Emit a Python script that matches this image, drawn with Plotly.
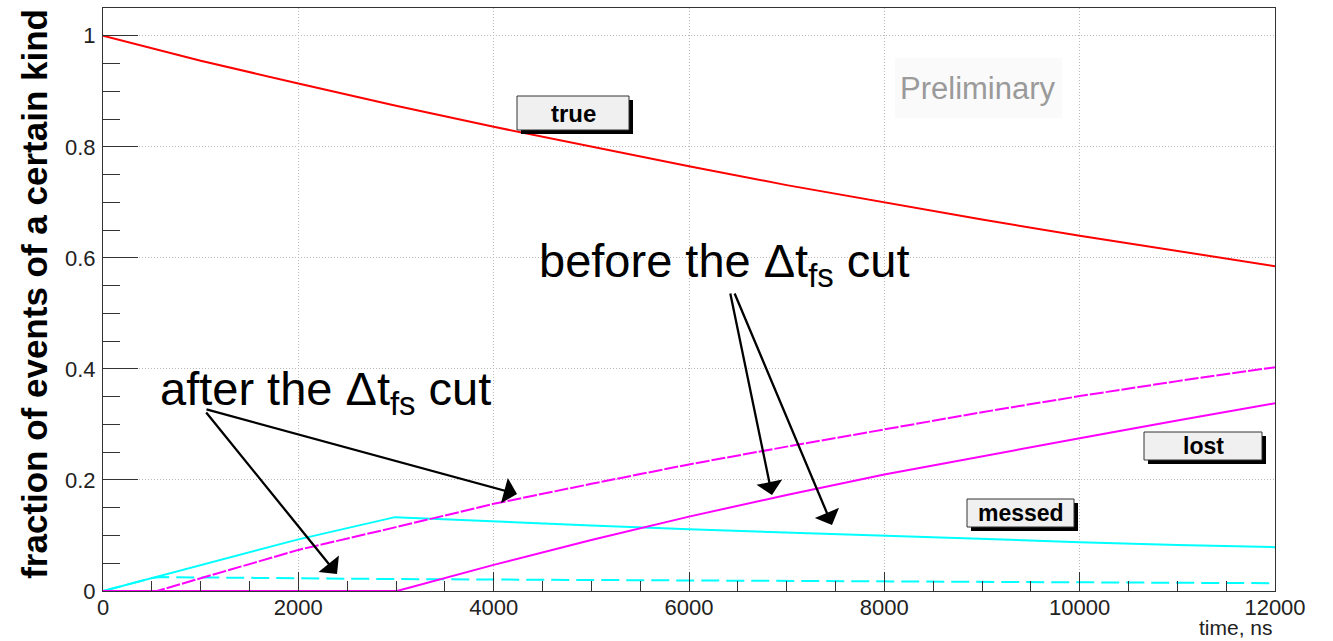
import plotly.graph_objects as go

# ---- data: fraction of events of each kind vs time (ns) ----
time_true = [0, 1000, 2000, 3000, 4000, 5000, 6000, 7000, 8000, 9000, 10000, 11000, 12000]
frac_true = [1.0, 0.955, 0.914, 0.874, 0.836, 0.800, 0.765, 0.731, 0.700, 0.669, 0.640, 0.612, 0.585]

time_lost_before = [0, 3010, 4000, 5000, 6000, 7000, 8000, 9000, 10000, 11000, 12000]
frac_lost_before = [0.0, 0.0, 0.047, 0.092, 0.134, 0.173, 0.210, 0.243, 0.275, 0.307, 0.338]

time_lost_after = [0, 553, 1000, 2000, 3000, 4000, 5000, 6000, 7000, 8000, 9000, 10000, 11000, 12000]
frac_lost_after = [0.0, 0.0, 0.023, 0.074, 0.115, 0.157, 0.193, 0.228, 0.260, 0.291, 0.322, 0.351, 0.378, 0.403]

time_messed_before = [0, 1000, 2000, 2990, 4000, 5000, 6000, 7000, 8000, 9000, 10000, 11000, 12000]
frac_messed_before = [0.0, 0.047, 0.093, 0.133, 0.125, 0.118, 0.111, 0.105, 0.099, 0.093, 0.088, 0.083, 0.079]

time_messed_after = [0, 520, 600, 2000, 3000, 6000, 9000, 12000]
frac_messed_after = [0.0, 0.024, 0.025, 0.023, 0.0215, 0.019, 0.0165, 0.014]

x_tick_vals = [0, 2000, 4000, 6000, 8000, 10000, 12000]
x_tick_text = ["0", "2000", "4000", "6000", "8000", "10000", "12000"]
y_tick_vals = [0, 0.2, 0.4, 0.6, 0.8, 1.0]
y_tick_text = ["0", "0.2", "0.4", "0.6", "0.8", "1"]

X_MAX = 12000
Y_MAX = 1.05

# ---- page geometry ----
W, H = 1333, 641
ML, MR, MT, MB = 103, 58, 8, 50
PW, PH = W - ML - MR, H - MT - MB


def tx(px):
    """pixel column -> time value"""
    return (px - ML) / PW * X_MAX


def ty(py):
    """pixel row -> fraction value"""
    return (H - MB - py) / PH * Y_MAX


FONT = "Liberation Sans, Arial, Helvetica, sans-serif"

fig = go.Figure()

line_w = 2
fig.add_trace(go.Scatter(x=time_messed_after, y=frac_messed_after, mode="lines",
                         line=dict(color="#00ffff", width=line_w, dash="18px,7px")))
fig.add_trace(go.Scatter(x=time_messed_before, y=frac_messed_before, mode="lines",
                         line=dict(color="#00ffff", width=line_w)))
fig.add_trace(go.Scatter(x=time_lost_before, y=frac_lost_before, mode="lines",
                         line=dict(color="#ff00ff", width=line_w)))
fig.add_trace(go.Scatter(x=time_lost_after, y=frac_lost_after, mode="lines",
                         line=dict(color="#ff00ff", width=line_w, dash="14px,2px")))
fig.add_trace(go.Scatter(x=time_true, y=frac_true, mode="lines",
                         line=dict(color="#ff0000", width=line_w)))

shapes = []
annotations = []

# labelled boxes with a drop shadow
boxes = [
    ("true", 517, 96, 629, 130, 24),
    ("lost", 1144, 432, 1262, 460, 23),
    ("messed", 967, 499, 1074, 527, 23),
]
for label, x0, y0, x1, y1, fs in boxes:
    shapes.append(dict(type="rect", xref="x", yref="y", layer="above",
                       x0=tx(x0 + 4), x1=tx(x1 + 4), y0=ty(y0 + 4), y1=ty(y1 + 4),
                       fillcolor="black", line=dict(width=0)))
    shapes.append(dict(type="rect", xref="x", yref="y", layer="above",
                       x0=tx(x0), x1=tx(x1), y0=ty(y0), y1=ty(y1),
                       fillcolor="#f0f0f0", line=dict(color="#333", width=1)))
    annotations.append(dict(x=tx((x0 + x1) / 2), y=ty((y0 + y1) / 2), xref="x", yref="y",
                            text=f"<b>{label}</b>", showarrow=False,
                            font=dict(family=FONT, size=fs, color="black"),
                            xanchor="center", yanchor="middle"))

# "Preliminary" stamp
shapes.append(dict(type="rect", xref="x", yref="y", layer="below",
                   x0=tx(895), x1=tx(1062), y0=ty(58), y1=ty(118),
                   fillcolor="#fafafa", line=dict(width=0)))
annotations.append(dict(x=tx(978), y=ty(88), xref="x", yref="y", text="Preliminary",
                        showarrow=False, font=dict(family=FONT, size=31, color="#9a9a9a"),
                        xanchor="center", yanchor="middle"))

# big captions
annotations.append(dict(x=tx(158), y=ty(392), xref="x", yref="y",
                        text="after the Δt<sub>fs</sub> cut", showarrow=False,
                        font=dict(family=FONT, size=47, color="black"),
                        xanchor="left", yanchor="middle"))
annotations.append(dict(x=tx(537), y=ty(264), xref="x", yref="y",
                        text="before the Δt<sub>fs</sub> cut", showarrow=False,
                        font=dict(family=FONT, size=47, color="black"),
                        xanchor="left", yanchor="middle"))

# arrows from captions to curves: (tail px, tip px)
arrows = [
    ((205, 409), (517, 494)),
    ((205, 411), (337, 574)),
    ((730, 292), (772, 495)),
    ((734, 292), (832, 525)),
]
for (ax_px, ay_px), (x_px, y_px) in arrows:
    annotations.append(dict(x=tx(x_px), y=ty(y_px), ax=tx(ax_px), ay=ty(ay_px),
                            xref="x", yref="y", axref="x", ayref="y", text="",
                            showarrow=True, arrowhead=1, arrowsize=1.9, arrowwidth=2.3,
                            arrowcolor="black"))

# axis titles
annotations.append(dict(x=-0.059, y=ty(294) / Y_MAX, xref="paper", yref="paper",
                        text="<b>fraction of events of a certain kind</b>", textangle=-90,
                        showarrow=False, font=dict(family=FONT, size=35, color="black"),
                        xanchor="center", yanchor="middle"))
annotations.append(dict(x=1.0, y=-(H - (H - MB)) / PH, xref="paper", yref="paper",
                        text="time, ns", showarrow=False,
                        font=dict(family=FONT, size=21, color="#222"),
                        xanchor="right", yanchor="bottom"))

grid_color = "#b8b8b8"
axis_color = "#333"

fig.update_layout(
    width=W, height=H,
    margin=dict(l=ML, r=MR, t=MT, b=MB, pad=0),
    paper_bgcolor="white", plot_bgcolor="white",
    showlegend=False,
    shapes=shapes, annotations=annotations,
    xaxis=dict(range=[0, X_MAX], tickmode="array", tickvals=x_tick_vals, ticktext=x_tick_text,
               ticks="inside", ticklen=19, tickwidth=1, tickcolor=axis_color,
               minor=dict(tickmode="linear", tick0=0, dtick=500, ticks="inside", ticklen=10,
                          tickcolor=axis_color, showgrid=False),
               showgrid=True, gridcolor=grid_color, griddash="1px,2px", gridwidth=1,
               showline=True, linecolor=axis_color, linewidth=1, mirror=True,
               zeroline=False, tickfont=dict(family=FONT, size=22, color="#222"),
               ticklabelstandoff=-3),
    yaxis=dict(range=[0, Y_MAX], tickmode="array", tickvals=y_tick_vals, ticktext=y_tick_text,
               ticks="inside", ticklen=35, tickwidth=1, tickcolor=axis_color,
               minor=dict(tickmode="linear", tick0=0, dtick=0.05, ticks="inside", ticklen=17,
                          tickcolor=axis_color, showgrid=False),
               showgrid=True, gridcolor=grid_color, griddash="1px,2px", gridwidth=1,
               showline=True, linecolor=axis_color, linewidth=1, mirror=True,
               zeroline=False, tickfont=dict(family=FONT, size=22, color="#222"),
               ticklabelstandoff=2),
)

fig.write_html("out.html")
